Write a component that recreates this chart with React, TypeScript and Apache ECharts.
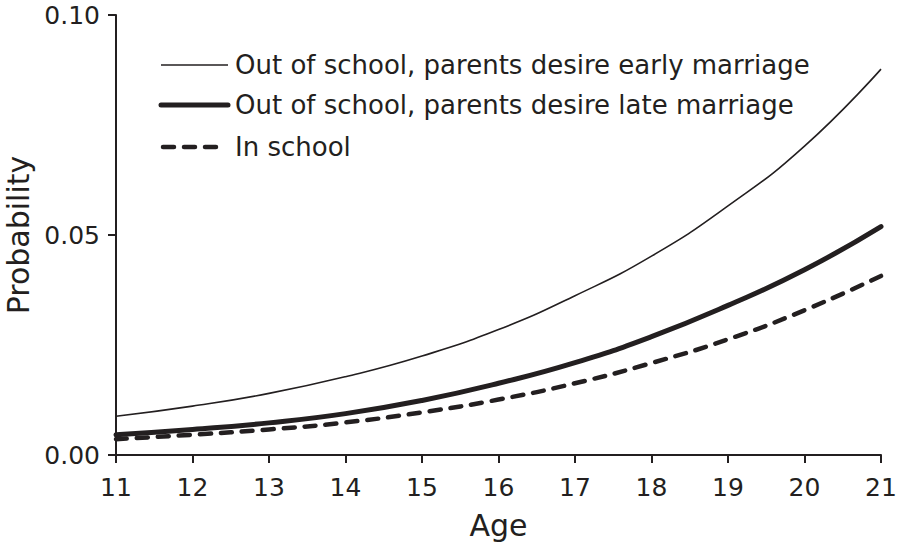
import React, { useEffect, useRef } from "react";
import * as echarts from "echarts";

const ages = [11, 12, 13, 14, 15, 16, 17, 18, 19, 20, 21];
const earlyMarriage = [0.0088, 0.0111, 0.014, 0.0178, 0.0225, 0.0285, 0.0362, 0.0452, 0.0566, 0.0702, 0.0877];
const lateMarriage = [0.0046, 0.0058, 0.0073, 0.0094, 0.0124, 0.0163, 0.021, 0.0269, 0.034, 0.0421, 0.0519];
const inSchool = [0.0036, 0.0046, 0.0058, 0.0074, 0.0097, 0.0126, 0.0163, 0.0209, 0.0263, 0.0329, 0.0407];
const seriesNames = [
  "Out of school, parents desire early marriage",
  "Out of school, parents desire late marriage",
  "In school",
];
const yTicks = [0, 0.05, 0.1];

const INK = "#231f20";
const FONT = "DejaVu Sans";

const lineStyles = [
  { color: INK, width: 1.6 },
  { color: INK, width: 5, cap: "round" },
  { color: INK, width: 4.5, type: [11, 10], cap: "round" },
];

export default function App() {
  const ref = useRef<HTMLDivElement>(null);
  useEffect(() => {
    if (!ref.current) return;
    const chart = echarts.init(ref.current, undefined, { renderer: "svg" });
    const mk = (arr: number[]) => ages.map((a, i) => [a, arr[i]]);
    const legendRowsY = [65, 105, 147];
    const legendGraphics: any[] = [];
    seriesNames.forEach((name, i) => {
      const ls: any = lineStyles[i];
      legendGraphics.push({
        type: "line",
        shape: { x1: i === 2 ? 163 : 161, y1: legendRowsY[i], x2: i === 2 ? 224 : 228, y2: legendRowsY[i] },
        style: {
          stroke: INK,
          lineWidth: ls.width,
          lineDash: ls.type ? ls.type : null,
          lineCap: ls.cap || "butt",
        },
      });
      legendGraphics.push({
        type: "text",
        x: 235,
        y: legendRowsY[i],
        style: {
          text: name,
          fill: INK,
          font: `26px "${FONT}"`,
          verticalAlign: "middle",
          align: "left",
        },
      });
    });
    chart.setOption({
      animation: false,
      backgroundColor: "#ffffff",
      textStyle: { fontFamily: FONT, color: INK },
      grid: { left: 116, right: 16, top: 15, bottom: 93, containLabel: false, outerBoundsMode: "none" },
      graphic: legendGraphics,
      xAxis: {
        type: "value",
        min: 11,
        max: 21,
        interval: 1,
        name: "Age",
        nameLocation: "middle",
        nameGap: 55,
        nameTextStyle: { fontFamily: FONT, fontSize: 30, color: INK },
        axisLine: { show: true, lineStyle: { color: INK, width: 2 } },
        axisTick: { show: true, length: 8, lineStyle: { color: INK, width: 2 } },
        axisLabel: { fontFamily: FONT, fontSize: 25, color: INK, margin: 20 },
        splitLine: { show: false },
      },
      yAxis: {
        type: "value",
        min: 0,
        max: 0.1,
        interval: 0.05,
        name: "Probability",
        nameLocation: "middle",
        nameGap: 80,
        nameTextStyle: { fontFamily: FONT, fontSize: 30, color: INK },
        axisLine: { show: true, lineStyle: { color: INK, width: 2 } },
        axisTick: { show: true, length: 8, lineStyle: { color: INK, width: 2 } },
        axisLabel: {
          fontFamily: FONT,
          fontSize: 25,
          color: INK,
          margin: 16,
          formatter: (v: number) => (yTicks.some((t) => Math.abs(t - v) < 1e-9) ? v.toFixed(2) : ""),
        },
        splitLine: { show: false },
      },
      series: [earlyMarriage, lateMarriage, inSchool].map((arr, i) => ({
        name: seriesNames[i],
        type: "line",
        data: mk(arr),
        smooth: 0.5,
        symbol: "none",
        lineStyle: lineStyles[i],
        itemStyle: { color: INK },
      })),
    });
    return () => chart.dispose();
  }, []);
  return <div ref={ref} style={{ width: 897, height: 548, position: "absolute", left: 0, top: 0 }} />;
}
